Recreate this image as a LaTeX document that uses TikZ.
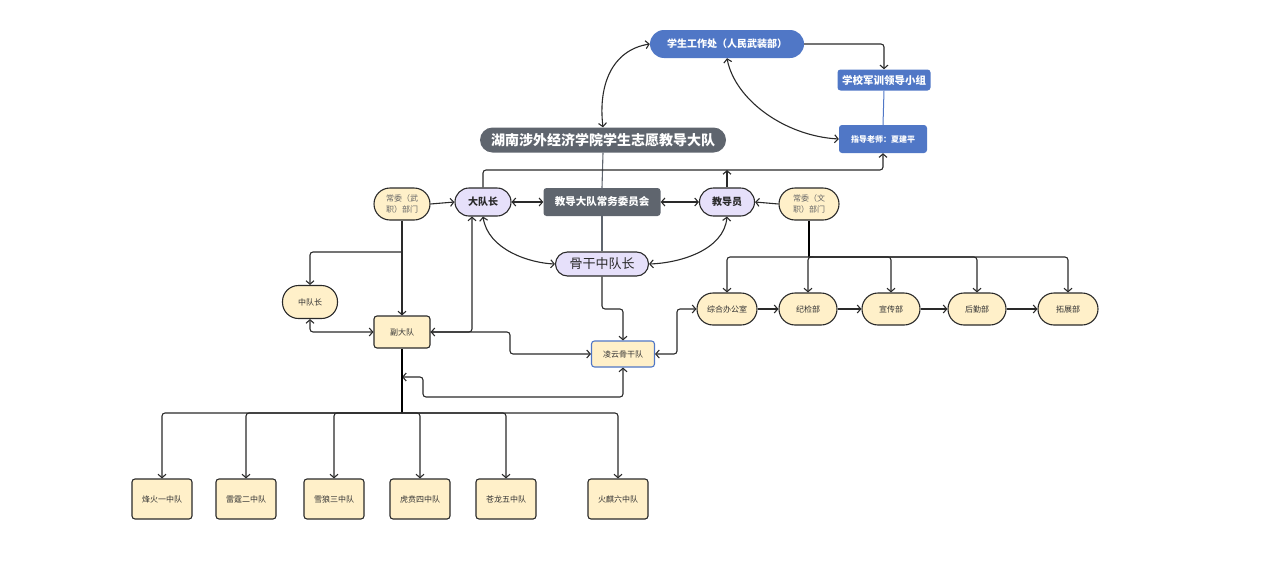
\documentclass[tikz,border=0pt]{standalone}
\usepackage{fontspec}
\setmainfont{Noto Sans CJK SC}
\usetikzlibrary{arrows.meta}
\definecolor{cblue}{HTML}{5077C6}
\definecolor{cgray}{HTML}{5F656E}
\definecolor{clav}{HTML}{E6E0FA}
\definecolor{ccream}{HTML}{FFF0C9}
\definecolor{cedge}{HTML}{2A2A2A}
\definecolor{ctext}{HTML}{333333}
\tikzset{
  bluebox/.style={fill=cblue, text=white, font=\bfseries\fontsize{10}{12}\selectfont, inner sep=0pt, rounded corners=4pt},
  graybox/.style={fill=cgray, text=white, font=\bfseries\fontsize{10.5}{12}\selectfont, inner sep=0pt, rounded corners=3pt},
  lavpill/.style={fill=clav, draw=cedge, line width=1.1pt, text=cedge, inner sep=0pt, minimum width=56pt, minimum height=28pt, rounded corners=14pt, font=\bfseries\fontsize{10}{12}\selectfont},
  creampill/.style={fill=ccream, draw=cedge, line width=1.1pt, text=ctext, inner sep=0pt, minimum width=58pt, minimum height=32pt, rounded corners=16pt, font=\fontsize{8}{11}\selectfont, align=center},
  creambox/.style={fill=ccream, draw=cedge, line width=1.1pt, text=ctext, inner sep=0pt, minimum width=60pt, minimum height=40pt, rounded corners=3pt, font=\fontsize{8}{10}\selectfont},
  conn/.style={draw=cedge, line width=1.1pt, rounded corners=3pt},
  arr/.style={conn, -{Straight Barb[length=3.5pt,width=8pt]}},
  darr/.style={conn, {Straight Barb[length=3.5pt,width=8pt]}-{Straight Barb[length=3.5pt,width=8pt]}},
  trunk/.style={draw=black, line width=1.6pt},
}
\begin{document}
\begin{tikzpicture}[x=1pt,y=-1pt]
\useasboundingbox (0,0) rectangle (1270,576);

% top blue nodes
\node[bluebox, minimum width=154pt, minimum height=28pt, rounded corners=14pt] (xsgz) at (727,44) {学生工作处（人民武装部）};
\node[bluebox, minimum width=93pt, minimum height=21pt, rounded corners=3pt, font=\bfseries\fontsize{10.5}{12}\selectfont] (jx) at (884,80) {学校军训领导小组};
\node[bluebox, minimum width=88pt, minimum height=28pt, rounded corners=3pt, font=\bfseries\fontsize{8}{10}\selectfont] (zdls) at (883,139) {指导老师：夏建平};

% gray nodes
\node[graybox, minimum width=246pt, minimum height=25pt, rounded corners=12.5pt, font=\bfseries\fontsize{14}{16}\selectfont] (hn) at (603,140) {湖南涉外经济学院学生志愿教导大队};
\node[graybox, minimum width=117pt, minimum height=28pt] (cwh) at (602,202) {教导大队常务委员会};

% lavender
\node[lavpill] (ddz) at (483,202) {大队长};
\node[lavpill, minimum width=55pt] (jdy) at (727,202) {教导员};
\node[lavpill, minimum width=93pt, minimum height=24pt, rounded corners=12pt, font=\fontsize{13}{15}\selectfont] (ggz) at (602,264) {骨干中队长};

% cream
\node[creampill, minimum width=56pt, text=black!60] (cw) at (402,204) {常委（武\\职）部门};
\node[creampill, minimum width=60pt, text=black!60] (cwz) at (809,204) {常委（文\\职）部门};
\node[creampill, minimum width=55pt, minimum height=33pt] (zdz) at (310,302) {中队长};
\node[creambox, minimum width=56pt, minimum height=32pt] (fdd) at (402,332) {副大队};
\node[creambox, draw=cblue, minimum width=63pt, minimum height=26pt] (lyg) at (623,354) {凌云骨干队};

\node[creampill, minimum width=60pt] (zh) at (727,309) {综合办公室};
\node[creampill] (jj) at (808,309) {纪检部};
\node[creampill] (xc) at (891,309) {宣传部};
\node[creampill] (hq) at (977,309) {后勤部};
\node[creampill, minimum width=60pt] (tz) at (1068,309) {拓展部};

\node[creambox] (z1) at (162,499) {烽火一中队};
\node[creambox] (z2) at (246,499) {雷霆二中队};
\node[creambox] (z3) at (334,499) {雪狼三中队};
\node[creambox] (z4) at (420,499) {虎贲四中队};
\node[creambox] (z5) at (506,499) {苍龙五中队};
\node[creambox] (z6) at (618,499) {火麒六中队};

% coordinates
\coordinate (busL) at (402,413);
\coordinate (busR) at (809,257);
\coordinate (topbar) at (727,170);
\coordinate (trk) at (402,377);

% top connectors
\draw[darr] (xsgz.west) .. controls (612,50) and (598,85) .. (hn.north);
\draw[arr] (xsgz.east) -| (jx.north);
\draw[darr] (xsgz.south) .. controls (735,100) and (785,136) .. (zdls.west);
\draw[draw=cblue, line width=1pt] (jx.south) -- (zdls.north);
\draw[draw=cgray, line width=1.1pt] (hn.south) -- (cwh.north);
\draw[draw=cgray, line width=1.1pt] (cwh.south) -- (ggz.north);
\draw[arr] (ddz.north) -- (483,170) -| (zdls.south);
\draw[arr] (jdy.north) -- (topbar);

% row connectors
\draw[arr] (cw.east) -- (ddz.west);
\draw[darr] (ddz.east) -- (cwh.west);
\draw[darr] (cwh.east) -- (jdy.west);
\draw[arr] (cwz.west) -- (jdy.east);
\draw[darr] (ddz.south) .. controls (488,250) and (530,263) .. (ggz.west);
\draw[darr] (jdy.south) .. controls (724,250) and (680,263) .. (ggz.east);

% left side
\draw[arr] (cw.south) -- (fdd.north);
\draw[arr] (402,252) -| (zdz.north);
\draw[darr] (zdz.south) |- (fdd.west);
\draw[darr] ([xshift=-11pt]ddz.south) |- (fdd.east);
\draw[arr] (fdd.east) -- (510,332) -- (510,354) -- (lyg.west);
\draw[arr] (ggz.south) -- (602,309) -- (623,309) -- (lyg.north);
\draw[darr] (lyg.south) -- (623,397) -- (423,397) -- (423,377) -- (trk);
\draw[darr] (lyg.east) -- (677,354) -- (677,309) -- (zh.west);

% bottom bus
\draw[trunk] (fdd.south) -- (busL);
\foreach \n in {z1,z2,z3,z4,z5,z6} \draw[arr] (busL) -| (\n.north);

% right bus
\draw[trunk] (cwz.south) -- (busR);
\foreach \n in {zh,jj,xc,hq,tz} \draw[arr] (busR) -| (\n.north);

% chain
\draw[arr] (zh.east) -- (jj.west);
\draw[arr] (jj.east) -- (xc.west);
\draw[arr] (xc.east) -- (hq.west);
\draw[arr] (hq.east) -- (tz.west);
\end{tikzpicture}
\end{document}
